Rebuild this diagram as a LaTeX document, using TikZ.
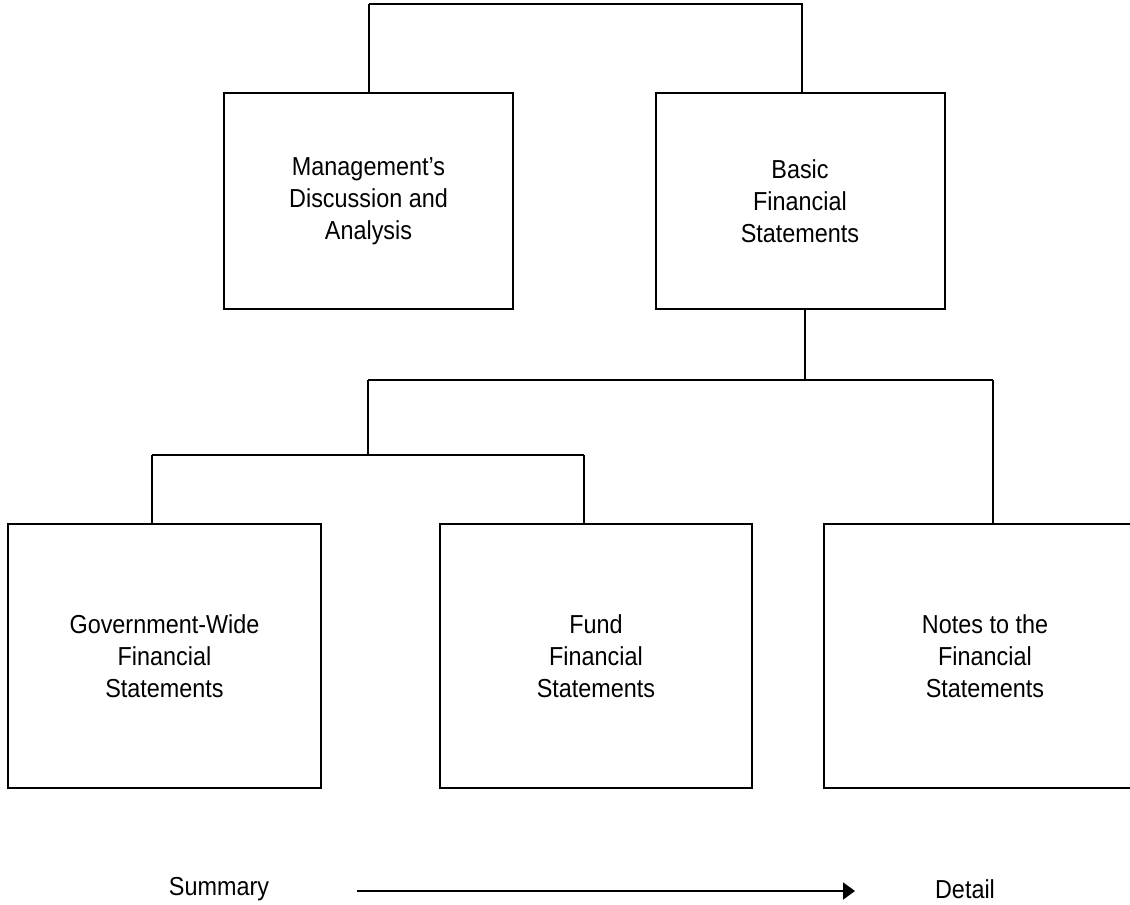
\documentclass[tikz,border=0pt]{standalone}
\usepackage{fontspec}
\setmainfont{Liberation Sans}[FakeStretch=0.9]
\usetikzlibrary{arrows.meta}
\begin{document}
\begin{tikzpicture}[x=1pt,y=-1pt,
  line width=2pt,
  boxnode/.style={draw=black, line width=2pt, rectangle, align=center, inner sep=0pt,
    font=\fontsize{26}{32}\selectfont},
  topbox/.style={boxnode, minimum width=289pt, minimum height=216pt},
  botbox/.style={boxnode, minimum width=313pt, minimum height=264pt},
  conn/.style={draw=black, line width=2pt},
  lbl/.style={font=\fontsize{26}{32}\selectfont, inner sep=0pt}]
\useasboundingbox (0,0) rectangle (1130,905);
\clip (0,0) rectangle (1130,905);
\node[topbox] (mda) at (368.5,201) {Management's\\Discussion and\\Analysis};
\node[topbox] (bfs) at (800,201) {Basic\\Financial\\Statements};
\node[botbox] (gov) at (164.5,656) {Government-Wide\\Financial\\Statements};
\node[botbox, minimum width=312pt] (fund) at (596,656) {Fund\\Financial\\Statements};
\node[botbox, minimum width=322pt] (notes) at (985,656) {Notes to the\\Financial\\Statements};
% top connector
\coordinate (tl) at (368.5,4);
\coordinate (tr) at (802,4);
\draw[conn] (tl) -- (tr) -- (tr |- bfs.north);
\draw[conn] (tl) -- (tl |- mda.north);
% second level
\coordinate (bj) at (805,380);
\coordinate (lj) at (368,380);
\coordinate (rj) at (993,380);
\draw[conn] (bfs.south -| bj) -- (bj);
\draw[conn] (lj) -- (rj);
\draw[conn] (rj) -- (rj |- notes.north);
\coordinate (mj) at (368,455);
\coordinate (gj) at (152,455);
\coordinate (fj) at (584,455);
\draw[conn] (lj) -- (mj);
\draw[conn] (gj) -- (fj);
\draw[conn] (gj) -- (gj |- gov.north);
\draw[conn] (fj) -- (fj |- fund.north);
% summary -> detail
\node[lbl] (sum) at (219,889) {Summary};
\node[lbl] (det) at (965,889) {Detail};
\coordinate (as) at (357,891);
\coordinate (ae) at (855,891);
\draw[conn, -{Triangle[length=12pt,width=17pt]}] (as) -- (ae);
\end{tikzpicture}
\end{document}
